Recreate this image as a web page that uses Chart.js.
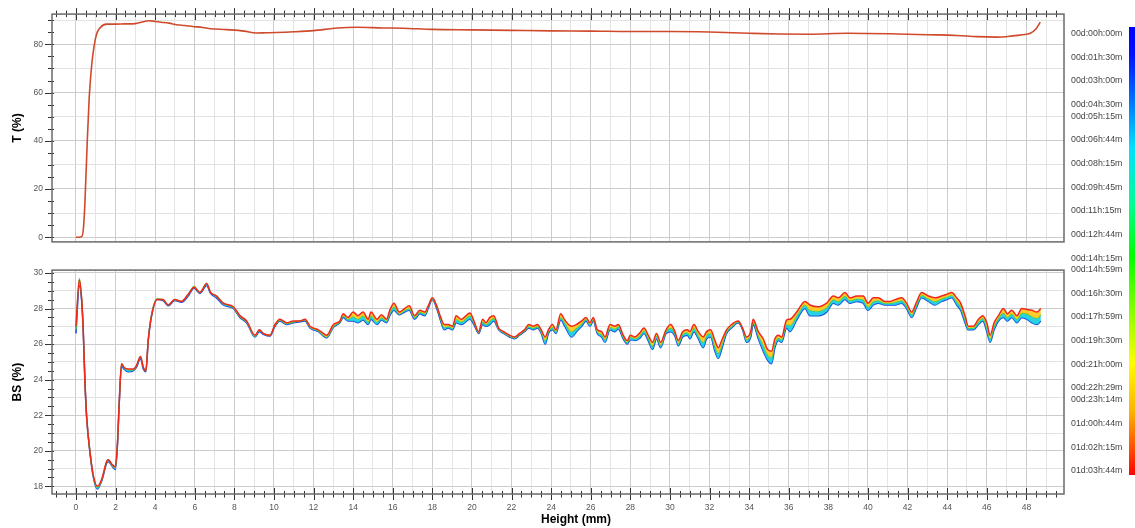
<!DOCTYPE html>
<html>
<head>
<meta charset="utf-8">
<script src="https://cdn.jsdelivr.net/npm/chart.js@4.4.1/dist/chart.umd.min.js"></script>
<style>
  html, body { margin: 0; padding: 0; background: #fff; overflow: hidden; }
  #wrap { position: relative; width: 1135px; height: 528px; }
  #topBox { position: absolute; left: 0; top: 0; width: 1135px; height: 256px; }
  #botBox { position: absolute; left: 0; top: 256px; width: 1135px; height: 272px; }
  #bar {
    position: absolute; left: 1129px; top: 27px; width: 6px; height: 448px;
    background: linear-gradient(to bottom, #0000ff 0%, #0010ff 6%, #0070ff 16%, #00e0ff 27%,
      #00ff90 40%, #00ff00 51%, #90ff00 64%, #ffff00 75%, #ffb000 86%, #ff5000 94%, #ff0000 100%);
  }
  .tl {
    position: absolute; left: 1071px; font: 8.8px "Liberation Sans", Arial, sans-serif;
    color: #444; white-space: nowrap; line-height: 10px; transform: translateY(-50%);
  }
</style>
</head>
<body>
<div id="wrap">
  <div id="topBox"><canvas id="chartT"></canvas></div>
  <div id="botBox"><canvas id="chartBS"></canvas></div>
  <div id="bar"></div>
</div>
<script>
// ---- data ----
const X_MIN = -1.21, X_MAX = 49.9;

// transmission profile (all scans overlap)
const tHeights = [0, 0.15, 0.3, 0.38, 0.45, 0.57, 0.67, 0.79, 0.91, 1.04,
  1.21, 1.55, 2.0, 2.5, 3.0, 3.3, 3.7, 4.0, 4.3, 4.7,
  5.1, 5.5, 5.9, 6.4, 6.8, 7.6, 8.5, 9.1, 9.6, 10.1,
  11.0, 12.0, 13.2, 14.2, 15.5, 16.5, 18, 20, 22, 24,
  26, 28, 30, 32, 34, 35.5, 37, 39, 41.5, 43,
  44.5, 45.5, 46.5, 47.3, 47.8, 48.2, 48.5, 48.7];
const tValues = [0, 0, 0.3, 4, 13.7, 39.7, 58, 71, 79, 84.2,
  86.8, 88.4, 88.4, 88.5, 88.6, 89.2, 89.8, 89.5, 89.2, 88.8,
  88.1, 87.8, 87.4, 87.0, 86.5, 86.1, 85.5, 84.7, 84.8, 84.9,
  85.2, 85.7, 86.8, 87.1, 86.8, 86.7, 86.2, 86.0, 85.8, 85.6,
  85.5, 85.3, 85.3, 85.1, 84.6, 84.3, 84.2, 84.6, 84.3, 84.0,
  83.7, 83.2, 83.0, 83.5, 84.0, 84.6, 86.6, 89.2];

// backscattering profiles: first scan (blue), middle scan (green), last scan (red)
const bsHeights = [
  0, 0.17, 0.29, 0.37, 0.45, 0.54, 0.71, 0.88, 1.08, 1.3, 1.55, 1.63, 1.85, 1.99, 2.09, 2.19, 2.3, 2.42, 2.64, 2.89,
  3.06, 3.26, 3.4, 3.53, 3.65, 3.82, 4.1, 4.4, 4.66, 4.99, 5.33, 5.67, 5.97, 6.26, 6.6, 6.8, 7.1, 7.44, 7.95, 8.28,
  8.62, 9.04, 9.26, 9.46, 9.8, 10.05, 10.3, 10.64, 10.98, 11.3, 11.57, 11.82,
  12.0, 12.24, 12.5, 12.66, 13.0, 13.33, 13.5, 13.74, 14.0, 14.24, 14.5, 14.76, 14.9, 15.2, 15.43, 15.69, 15.85, 16.06, 16.33, 16.6,
  16.83, 17.1, 17.37, 17.62, 17.79, 18.0, 18.22, 18.39, 18.6, 18.8, 19.02, 19.2, 19.46, 19.9, 20.1, 20.34, 20.54, 20.7, 20.9, 21.1,
  21.35, 21.6, 21.9, 22.15, 22.4, 22.65, 22.87, 23.1, 23.3, 23.5,
  23.7, 23.86, 24.07, 24.24, 24.48, 24.69, 25.03, 25.28, 25.54, 25.76, 25.96, 26.13, 26.33, 26.55, 26.72, 26.97, 27.22, 27.39, 27.64, 27.84,
  28.0, 28.23, 28.45, 28.69, 28.9, 29.12, 29.32, 29.53, 29.8, 30.04, 30.25, 30.42, 30.64, 30.88, 31.01, 31.21, 31.43, 31.68, 31.85, 32.05,
  32.27, 32.44, 32.61, 32.86, 33.11, 33.45, 33.67, 33.87, 34.08, 34.2, 34.46, 34.71, 34.93, 35.13, 35.3, 35.47, 35.64, 35.89,
  36.06, 36.4, 36.82, 37.07, 37.49, 37.91, 38.25, 38.5, 38.84, 39.09, 39.43, 39.76, 40.0, 40.27, 40.52, 40.86, 41.11, 41.37, 41.7, 41.95,
  42.21, 42.43, 42.71, 43.05, 43.39, 43.72, 43.98, 44.23, 44.48, 44.68, 44.9, 45.07, 45.32, 45.58, 45.8, 46.0, 46.17, 46.37, 46.59, 46.84,
  47.04, 47.26, 47.52, 47.77, 48.02, 48.28, 48.53, 48.73];
const bsLast = [
  27.0, 29.6, 28.5, 26.7, 24.0, 21.9, 19.9, 18.6, 18.0, 18.4, 19.4, 19.5, 19.2, 19.1, 20.3, 22.8, 24.9, 24.7, 24.6, 24.6,
  24.8, 25.3, 24.7, 24.5, 26.2, 27.6, 28.5, 28.5, 28.2, 28.5, 28.4, 28.8, 29.2, 28.9, 29.4, 28.9, 28.7, 28.3, 28.1, 27.6,
  27.3, 26.5, 26.8, 26.6, 26.5, 27.1, 27.4, 27.2, 27.3, 27.3, 27.4, 27.0,
  26.9, 26.8, 26.6, 26.5, 27.1, 27.3, 27.7, 27.5, 27.8, 27.6, 27.8, 27.4, 27.8, 27.4, 27.65, 27.4, 27.9, 28.3, 27.8, 28.0,
  28.15, 27.6, 27.9, 27.8, 28.15, 28.6, 28.15, 27.6, 27.1, 27.1, 27.0, 27.6, 27.4, 27.75, 27.3, 26.7, 27.4, 27.2, 27.5, 27.6,
  26.9, 26.7, 26.5, 26.4, 26.6, 26.8, 27.1, 27.0, 27.1, 26.8,
  26.4, 26.8, 27.1, 26.8, 27.7, 27.35, 27.0, 27.1, 27.3, 27.5, 27.2, 27.5, 26.8, 26.7, 26.4, 27.1, 27.0, 27.1, 26.5, 26.2,
  26.5, 26.4, 26.6, 26.9, 26.5, 26.1, 26.6, 26.1, 26.8, 27.1, 26.7, 26.2, 26.7, 26.8, 26.7, 27.1, 26.7, 26.4, 26.7, 26.8,
  26.2, 25.8, 26.2, 26.8, 27.1, 27.3, 26.9, 26.4, 26.7, 27.4, 26.7, 26.3, 25.7, 25.6, 26.3, 26.5, 26.4, 27.35,
  27.4, 27.8, 28.4, 28.2, 28.1, 28.3, 28.7, 28.6, 28.9, 28.6, 28.7, 28.7, 28.3, 28.6, 28.6, 28.4, 28.4, 28.5, 28.6, 28.3,
  27.8, 28.3, 28.9, 28.7, 28.6, 28.7, 28.8, 28.9, 28.6, 28.3, 27.6, 27.0, 27.0, 27.4, 27.6, 27.2, 26.5, 27.2, 27.6, 28.0,
  27.7, 27.9, 27.6, 28.0, 27.95, 27.9, 27.8, 28.0];
const bsMid = [
  26.8, 29.7, 28.5, 26.7, 24.0, 21.9, 19.9, 18.55, 17.95, 18.35, 19.4, 19.5, 19.15, 19.05, 20.25, 22.8, 24.9, 24.7, 24.55, 24.55,
  24.8, 25.3, 24.7, 24.5, 26.2, 27.7, 28.55, 28.5, 28.2, 28.5, 28.4, 28.8, 29.25, 28.9, 29.4, 28.9, 28.7, 28.3, 28.05, 27.55,
  27.25, 26.45, 26.8, 26.6, 26.5, 27.05, 27.35, 27.15, 27.25, 27.3, 27.35, 26.95,
  26.85, 26.75, 26.5, 26.4, 27.0, 27.25, 27.6, 27.4, 27.55, 27.4, 27.6, 27.25, 27.6, 27.25, 27.5, 27.3, 27.75, 28.1, 27.7, 27.9,
  28.0, 27.5, 27.8, 27.7, 28.1, 28.55, 28.1, 27.5, 26.95, 27.0, 26.9, 27.4, 27.25, 27.6, 27.2, 26.65, 27.25, 27.1, 27.3, 27.45,
  26.85, 26.65, 26.45, 26.35, 26.55, 26.75, 27.0, 26.9, 27.0, 26.7,
  26.2, 26.7, 26.95, 26.7, 27.5, 27.2, 26.7, 26.9, 27.15, 27.4, 27.1, 27.4, 26.7, 26.55, 26.25, 26.95, 26.85, 27.0, 26.4, 26.1,
  26.4, 26.3, 26.45, 26.75, 26.35, 25.9, 26.45, 25.95, 26.7, 26.9, 26.6, 26.05, 26.55, 26.65, 26.5, 26.9, 26.5, 26.1, 26.5, 26.6,
  25.9, 25.5, 25.95, 26.7, 27.0, 27.25, 26.85, 26.25, 26.55, 27.25, 26.5, 25.95, 25.4, 25.25, 26.05, 26.35, 26.25, 27.1,
  27.05, 27.6, 28.2, 27.9, 27.85, 28.05, 28.5, 28.4, 28.7, 28.45, 28.55, 28.5, 28.1, 28.4, 28.45, 28.3, 28.3, 28.35, 28.45, 28.15,
  27.65, 28.15, 28.75, 28.55, 28.4, 28.55, 28.65, 28.75, 28.4, 28.1, 27.4, 26.9, 26.9, 27.25, 27.45, 26.95, 26.3, 27.0, 27.45, 27.75,
  27.5, 27.7, 27.4, 27.75, 27.7, 27.55, 27.45, 27.65];
const bsFirst = [
  26.6, 29.3, 28.4, 26.7, 24.0, 21.9, 19.9, 18.5, 17.85, 18.3, 19.3, 19.4, 19.1, 18.95, 20.2, 22.8, 24.8, 24.6, 24.45, 24.5,
  24.7, 25.2, 24.6, 24.45, 26.2, 27.6, 28.5, 28.45, 28.15, 28.45, 28.35, 28.7, 29.15, 28.85, 29.3, 28.85, 28.6, 28.2, 28.0, 27.5,
  27.2, 26.4, 26.7, 26.55, 26.45, 27.0, 27.3, 27.1, 27.2, 27.25, 27.3, 26.9,
  26.8, 26.7, 26.45, 26.35, 26.95, 27.2, 27.5, 27.3, 27.3, 27.2, 27.35, 27.1, 27.4, 27.1, 27.35, 27.2, 27.6, 27.9, 27.65, 27.8,
  27.9, 27.4, 27.7, 27.6, 28.0, 28.5, 28.0, 27.4, 26.8, 26.9, 26.8, 27.2, 27.1, 27.4, 27.1, 26.6, 27.1, 27.0, 27.1, 27.3,
  26.8, 26.6, 26.4, 26.3, 26.5, 26.7, 26.9, 26.8, 26.9, 26.6,
  26.0, 26.6, 26.8, 26.6, 27.35, 27.0, 26.4, 26.7, 27.0, 27.3, 27.0, 27.3, 26.6, 26.4, 26.1, 26.8, 26.7, 26.85, 26.3, 26.0,
  26.25, 26.2, 26.3, 26.6, 26.2, 25.7, 26.3, 25.8, 26.6, 26.7, 26.45, 25.9, 26.4, 26.5, 26.3, 26.7, 26.3, 25.8, 26.3, 26.4,
  25.6, 25.2, 25.7, 26.6, 26.9, 27.2, 26.8, 26.1, 26.4, 27.1, 26.3, 25.6, 25.1, 24.9, 25.8, 26.2, 26.1, 26.9,
  26.7, 27.35, 28.0, 27.6, 27.6, 27.8, 28.3, 28.2, 28.5, 28.3, 28.4, 28.3, 27.9, 28.2, 28.3, 28.2, 28.2, 28.2, 28.3, 28.0,
  27.5, 28.0, 28.6, 28.4, 28.2, 28.4, 28.5, 28.6, 28.2, 27.9, 27.2, 26.8, 26.8, 27.1, 27.3, 26.7, 26.1, 26.8, 27.3, 27.5,
  27.3, 27.5, 27.2, 27.5, 27.4, 27.2, 27.1, 27.3];

// scan times shown next to the colour bar
const scanLabels = ['00d:00h:00m', '00d:01h:30m', '00d:03h:00m', '00d:04h:30m', '00d:05h:15m', '00d:06h:44m',
  '00d:08h:15m', '00d:09h:45m', '00d:11h:15m', '00d:12h:44m', '00d:14h:15m', '00d:14h:59m', '00d:16h:30m',
  '00d:17h:59m', '00d:19h:30m', '00d:21h:00m', '00d:22h:29m', '00d:23h:14m', '01d:00h:44m', '01d:02h:15m', '01d:03h:44m'];
const scanMinutes = [0, 90, 180, 270, 315, 404, 495, 585, 675, 764, 855, 899, 990, 1079, 1170, 1260, 1349, 1394, 1484, 1575, 1664];

// ---- legend (colour bar labels) ----
(function buildLegend() {
  const wrap = document.getElementById('wrap');
  const top = 33, bottom = 470, total = scanMinutes[scanMinutes.length - 1];
  scanLabels.forEach((txt, i) => {
    const d = document.createElement('div');
    d.className = 'tl';
    d.style.top = (top + (bottom - top) * scanMinutes[i] / total) + 'px';
    d.textContent = txt;
    wrap.appendChild(d);
  });
})();

const FONT = '"Liberation Sans", Arial, sans-serif';
const pts = (xs, ys) => ys.map((v, i) => ({ x: xs[i], y: v }));

// ticks crossing the frame + the frame itself
const frameTicks = {
  id: 'frameTicks',
  afterDraw(chart, args, opts) {
    const { ctx, chartArea: a } = chart;
    const x = chart.scales.x, y = chart.scales.y;
    ctx.save();
    ctx.strokeStyle = '#333';
    ctx.lineWidth = 1;
    ctx.beginPath();
    const atTop = opts.xEdge === 'top';
    const edge = atTop ? a.top : a.bottom;
    const dir = atTop ? -1 : 1;
    for (let v = -1; v <= X_MAX; v += 0.5) {
      const px = Math.round(x.getPixelForValue(v)) + 0.5;
      const major = Math.abs(v % 2) < 1e-9;
      const inn = major ? 6 : 3, out = major ? 6 : 3.5;
      ctx.moveTo(px, edge - dir * inn);
      ctx.lineTo(px, edge + dir * out);
    }
    for (let v = opts.yFrom; v <= y.max + 1e-9; v += opts.yStep) {
      const py = Math.round(y.getPixelForValue(v)) + 0.5;
      const major = Math.abs(v % opts.yMajor) < 1e-9;
      ctx.moveTo(a.left + 2, py);
      ctx.lineTo(a.left - (major ? 7 : 4), py);
    }
    ctx.stroke();
    ctx.strokeStyle = '#6a6a6a';
    ctx.lineWidth = 1.5;
    ctx.strokeRect(a.left, a.top, a.right - a.left, a.bottom - a.top);
    if (opts.xTitle) {
      ctx.fillStyle = '#000';
      ctx.font = 'bold 12px ' + FONT;
      ctx.textAlign = 'center';
      ctx.textBaseline = 'middle';
      ctx.fillText(opts.xTitle, (a.left + a.right) / 2 + 18, chart.height - 8);
    }
    ctx.restore();
  }
};

const xGrid = (c) => {
  const v = c.tick.value;
  if (v < 0) return 'rgba(0,0,0,0)';
  return v % 2 === 0 ? '#cccccc' : '#e4e4e4';
};

function xScale(bottom) {
  return {
    type: 'linear', position: bottom ? 'bottom' : 'top', min: X_MIN, max: X_MAX,
    ticks: {
      display: bottom, stepSize: 1, includeBounds: false, autoSkip: false, maxRotation: 0, padding: 9,
      color: '#555', font: { family: FONT, size: 8.5 },
      callback: v => (v >= 0 && v % 2 === 0) ? v : ''
    },
    grid: { drawTicks: false, color: xGrid, lineWidth: 1 },
    border: { display: false },
    afterFit: s => { s.height = bottom ? 34 : 0; }
  };
}

function yScale(min, max, step, labelEvery, title) {
  return {
    min, max,
    ticks: {
      stepSize: step, includeBounds: false, autoSkip: false, padding: 9,
      color: '#555', font: { family: FONT, size: 8.5 },
      callback: v => (Math.abs(v % labelEvery) < 1e-9) ? v : ''
    },
    grid: {
      drawTicks: false,
      color: c => (Math.abs(c.tick.value % labelEvery) < 1e-9) ? '#cccccc' : '#e2e2e2'
    },
    border: { display: false },
    title: { display: true, text: title, color: '#000', font: { family: FONT, size: 12, weight: 'bold' }, padding: { top: 10 } },
    afterFit: s => { s.width = 52; }
  };
}

Chart.defaults.animation = false;

new Chart(document.getElementById('chartT'), {
  type: 'line',
  data: {
    datasets: [
      { label: 'T', data: pts(tHeights, tValues), borderColor: '#cf4a2c', borderWidth: 1.6, pointRadius: 0,
        fill: false, cubicInterpolationMode: 'monotone' }
    ]
  },
  options: {
    responsive: true, maintainAspectRatio: false, devicePixelRatio: 1,
    layout: { padding: { top: 12, right: 71, bottom: 3, left: 0 } },
    plugins: { legend: { display: false }, tooltip: { enabled: false },
      frameTicks: { xEdge: 'top', yFrom: 0, yStep: 5, yMajor: 20 } },
    scales: { x: xScale(false), y: yScale(-1.96, 92.55, 10, 20, 'T (%)') }
  },
  plugins: [frameTicks]
});

new Chart(document.getElementById('chartBS'), {
  type: 'line',
  data: {
    datasets: [
      { label: 'last', data: pts(bsHeights, bsLast), borderColor: '#f0281c', borderWidth: 1.5, pointRadius: 0,
        fill: '+1', backgroundColor: 'rgba(255,196,20,0.9)', cubicInterpolationMode: 'monotone' },
      { label: 'mid', data: pts(bsHeights, bsMid), borderColor: '#3ccf3c', borderWidth: 1.2, pointRadius: 0,
        fill: '+1', backgroundColor: 'rgba(20,205,225,0.9)', cubicInterpolationMode: 'monotone' },
      { label: 'first', data: pts(bsHeights, bsFirst), borderColor: '#1c3ee0', borderWidth: 1.5, pointRadius: 0,
        fill: false, cubicInterpolationMode: 'monotone' }
    ]
  },
  options: {
    responsive: true, maintainAspectRatio: false, devicePixelRatio: 1,
    layout: { padding: { top: 5, right: 71, bottom: 0, left: 0 } },
    plugins: { legend: { display: false }, tooltip: { enabled: false },
      frameTicks: { xEdge: 'bottom', yFrom: 18, yStep: 0.5, yMajor: 2, xTitle: 'Height (mm)' } },
    scales: { x: xScale(true), y: yScale(17.57, 30.16, 1, 2, 'BS (%)') }
  },
  plugins: [frameTicks]
});
</script>
</body>
</html>
